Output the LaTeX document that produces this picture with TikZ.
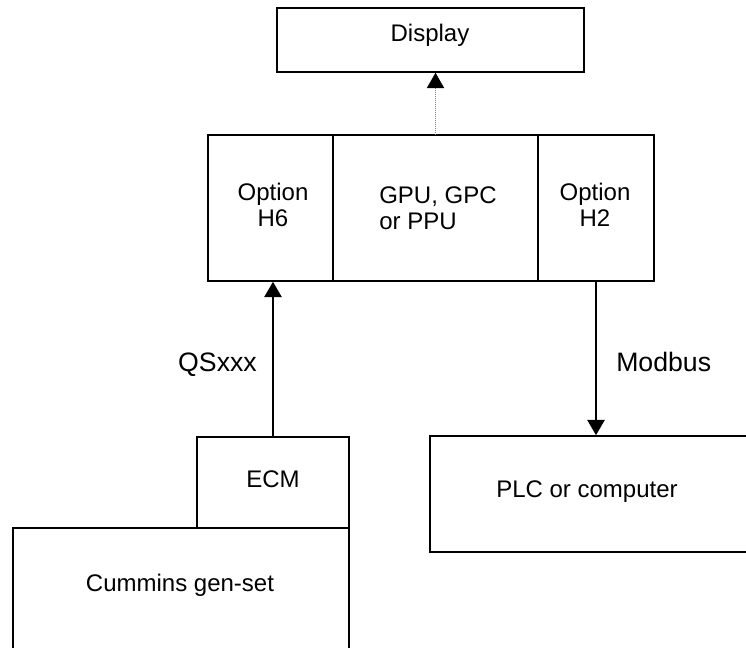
\documentclass[tikz,border=0pt]{standalone}
\usepackage{fontspec}
\setmainfont{Liberation Sans}
\usepackage{tikz}
\usetikzlibrary{arrows.meta}

\tikzset{
  unit/.style={draw=black,line width=1.2pt,inner sep=0pt},
  wd/.style={minimum width=#1*0.75pt},
  ht/.style={minimum height=#1*0.75pt},
  txt/.style={inner sep=0pt,font=\fontsize{18}{19.5}\selectfont},
  lbl/.style={inner sep=0pt,font=\fontsize{20}{22}\selectfont},
  link/.style={line width=1.3pt,-{Triangle[width=13pt,length=11.5pt,color=black]}}
}

\begin{document}
\begin{tikzpicture}[x=0.75pt,y=-0.75pt]
  \useasboundingbox (0,0) rectangle (746,648);
  \clip (0,0) rectangle (746,648);
  % boxes
  \node[unit,wd=307,ht=64] (display) at (430.5,40) {};
  \node[unit,wd=125,ht=146] (h6) at (270.5,208) {};
  \node[unit,wd=205,ht=146] (core) at (435.5,208) {};
  \node[unit,wd=116,ht=146] (h2) at (596,208) {};
  \node[unit,wd=336,ht=140] (genset) at (181,598) {};
  \node[unit,wd=152,ht=91] (ecm) at (273,482.5) {};
  \node[unit,wd=322,ht=116] (plc) at (591,494) {};
  % texts
  \node[txt,anchor=base] (tdisplay) at (430,42) {Display};
  \node[txt,align=center] (th6) at (273,205) {Option\\H6};
  \node[txt,align=left,anchor=west] (tcore) at (379,208) {GPU, GPC\\or PPU};
  \node[txt,align=center] (th2) at (595,205) {Option\\H2};
  \node[txt,anchor=base] (tecm) at (273,487) {ECM};
  \node[txt,anchor=base] (tgenset) at (180,591) {Cummins gen-set};
  \node[txt,anchor=base] (tplc) at (587,497) {PLC or computer};
  % links
  \draw[link,line width=0.5pt,gray,densely dotted] (core.north) -- (core.north |- display.south);
  \draw[link] (ecm.north) -- (ecm.north |- h6.south);
  \draw[link] (h2.south) -- (h2.south |- plc.north);
  \node[lbl,anchor=base] (qs) at (217.5,372) {QSxxx};
  \node[lbl,anchor=base west] (modbus) at (616,372) {Modbus};
\end{tikzpicture}
\end{document}
